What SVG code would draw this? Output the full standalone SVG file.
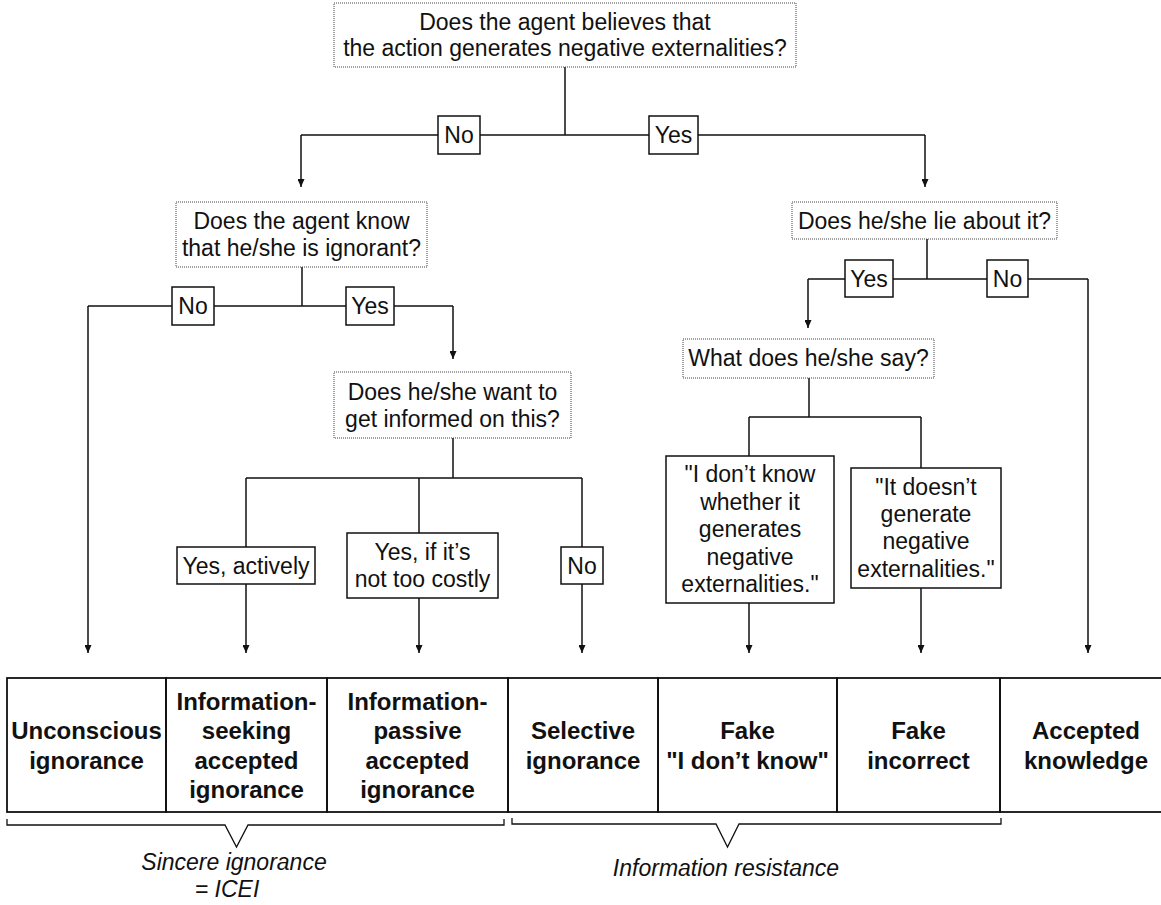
<svg xmlns="http://www.w3.org/2000/svg" width="1161" height="905" viewBox="0 0 1161 905">
<style>
text{font-family:"Liberation Sans",Arial,Helvetica,sans-serif;fill:#111;text-anchor:middle}
.q{font-size:23px}
.lb{font-size:23px}
.b{font-size:24px;font-weight:bold}
.it{font-size:23px;font-style:italic}
.dot{fill:#fff;stroke:#444;stroke-width:1;stroke-dasharray:1 1}
.box{fill:#fff;stroke:#111;stroke-width:1.5}
.cell{fill:none;stroke:#111;stroke-width:1.8}
.c{fill:none;stroke:#111;stroke-width:1.5}
.ar{marker-end:url(#ah)}
.br{fill:none;stroke:#111;stroke-width:1.3}
</style>
<defs>
<marker id="ah" viewBox="0 0 8 7" refX="8" refY="3.5" markerWidth="8" markerHeight="7" markerUnits="userSpaceOnUse" orient="auto">
<path d="M0,0 L8,3.5 L0,7 z" fill="#111"/>
</marker>
</defs>
<rect width="1161" height="905" fill="#fff"/>

<g id="connectors">
<path class="c" d="M565,67 V135 M301,135 H925"/>
<path class="c ar" d="M301,135 V187"/>
<path class="c ar" d="M925,135 V187"/>
<path class="c" d="M302,267 V306 M88,306 H453"/>
<path class="c ar" d="M88,306 V653"/>
<path class="c ar" d="M453,306 V359"/>
<path class="c" d="M927,239 V279 M808,279 H1088"/>
<path class="c ar" d="M808,279 V328"/>
<path class="c ar" d="M1088,279 V653"/>
<path class="c" d="M453,438 V478 M246,478 H582"/>
<path class="c ar" d="M246,478 V653"/>
<path class="c ar" d="M419,478 V653"/>
<path class="c ar" d="M582,478 V653"/>
<path class="c" d="M809,378 V417 M749,417 H921"/>
<path class="c ar" d="M749,417 V653"/>
<path class="c ar" d="M921,417 V653"/>
</g>

<g id="q1">
<rect class="dot" x="334" y="3" width="462" height="64"/>
<text class="q" x="565" y="30">Does the agent believes that</text>
<text class="q" x="565" y="56">the action generates negative externalities?</text>
</g>
<g id="l1-no"><rect class="box" x="438" y="116" width="42" height="38"/><text class="lb" x="459" y="143">No</text></g>
<g id="l1-yes"><rect class="box" x="649" y="116" width="49" height="38"/><text class="lb" x="673.5" y="143">Yes</text></g>

<g id="q2">
<rect class="dot" x="176" y="202" width="251" height="65"/>
<text class="q" x="301.5" y="229">Does the agent know</text>
<text class="q" x="301.5" y="256">that he/she is ignorant?</text>
</g>
<g id="l2-no"><rect class="box" x="172" y="287" width="42" height="38"/><text class="lb" x="193" y="314">No</text></g>
<g id="l2-yes"><rect class="box" x="346" y="287" width="48" height="38"/><text class="lb" x="370" y="314">Yes</text></g>

<g id="q3">
<rect class="dot" x="792" y="202" width="265" height="37"/>
<text class="q" x="924.5" y="229">Does he/she lie about it?</text>
</g>
<g id="l3-yes"><rect class="box" x="845" y="260" width="48" height="37"/><text class="lb" x="869" y="287">Yes</text></g>
<g id="l3-no"><rect class="box" x="987" y="260" width="41" height="37"/><text class="lb" x="1007.5" y="287">No</text></g>

<g id="q4">
<rect class="dot" x="334" y="372" width="237" height="66"/>
<text class="q" x="452.5" y="399.5">Does he/she want to</text>
<text class="q" x="452.5" y="426.5">get informed on this?</text>
</g>
<g id="l4-active"><rect class="box" x="177" y="547" width="138" height="37"/><text class="lb" x="246" y="573.5">Yes, actively</text></g>
<g id="l4-costly"><rect class="box" x="347" y="533" width="151" height="65"/><text class="lb" x="422.5" y="560">Yes, if it’s</text><text class="lb" x="422.5" y="587">not too costly</text></g>
<g id="l4-no"><rect class="box" x="561" y="547" width="42" height="37"/><text class="lb" x="582" y="573.5">No</text></g>

<g id="q5">
<rect class="dot" x="683" y="339" width="251" height="39"/>
<text class="q" x="808.5" y="366">What does he/she say?</text>
</g>
<g id="l5-dontknow"><rect class="box" x="666" y="456" width="168" height="147"/>
<text class="lb" x="750" y="482">"I don’t know</text>
<text class="lb" x="750" y="509.5">whether it</text>
<text class="lb" x="750" y="537">generates</text>
<text class="lb" x="750" y="564.5">negative</text>
<text class="lb" x="750" y="592">externalities."</text>
</g>
<g id="l5-doesnt"><rect class="box" x="851" y="468" width="150" height="120"/>
<text class="lb" x="926" y="495">"It doesn’t</text>
<text class="lb" x="926" y="522">generate</text>
<text class="lb" x="926" y="549">negative</text>
<text class="lb" x="926" y="577">externalities."</text>
</g>

<g id="t-unconscious"><rect class="cell" x="7" y="678" width="159" height="134"/>
<text class="b" x="86.5" y="739">Unconscious</text><text class="b" x="86.5" y="768.5">ignorance</text></g>
<g id="t-seeking"><rect class="cell" x="166" y="678" width="161" height="134"/>
<text class="b" x="246.5" y="709.5">Information-</text><text class="b" x="246.5" y="739">seeking</text><text class="b" x="246.5" y="768.5">accepted</text><text class="b" x="246.5" y="798">ignorance</text></g>
<g id="t-passive"><rect class="cell" x="327" y="678" width="181" height="134"/>
<text class="b" x="417.5" y="709.5">Information-</text><text class="b" x="417.5" y="739">passive</text><text class="b" x="417.5" y="768.5">accepted</text><text class="b" x="417.5" y="798">ignorance</text></g>
<g id="t-selective"><rect class="cell" x="508" y="678" width="150" height="134"/>
<text class="b" x="583" y="739">Selective</text><text class="b" x="583" y="768.5">ignorance</text></g>
<g id="t-fakedk"><rect class="cell" x="658" y="678" width="179" height="134"/>
<text class="b" x="747.5" y="739">Fake</text><text class="b" x="747.5" y="768.5">"I don’t know"</text></g>
<g id="t-fakeinc"><rect class="cell" x="837" y="678" width="163" height="134"/>
<text class="b" x="918.5" y="739">Fake</text><text class="b" x="918.5" y="768.5">incorrect</text></g>
<g id="t-accepted"><rect class="cell" x="1000" y="678" width="175" height="134"/>
<text class="b" x="1086" y="739">Accepted</text><text class="b" x="1086" y="768.5">knowledge</text></g>

<g id="brace-sincere">
<path class="br" d="M7,819 V825 H225 L236.5,847 L248,825 H504 V819"/>
<text class="it" x="234" y="870">Sincere ignorance</text>
<text class="it" x="227" y="897">= ICEI</text>
</g>
<g id="brace-resistance">
<path class="br" d="M512,818 V824 H716 L727.5,847 L739,824 H1001 V818"/>
<text class="it" x="726" y="876">Information resistance</text>
</g>
</svg>
